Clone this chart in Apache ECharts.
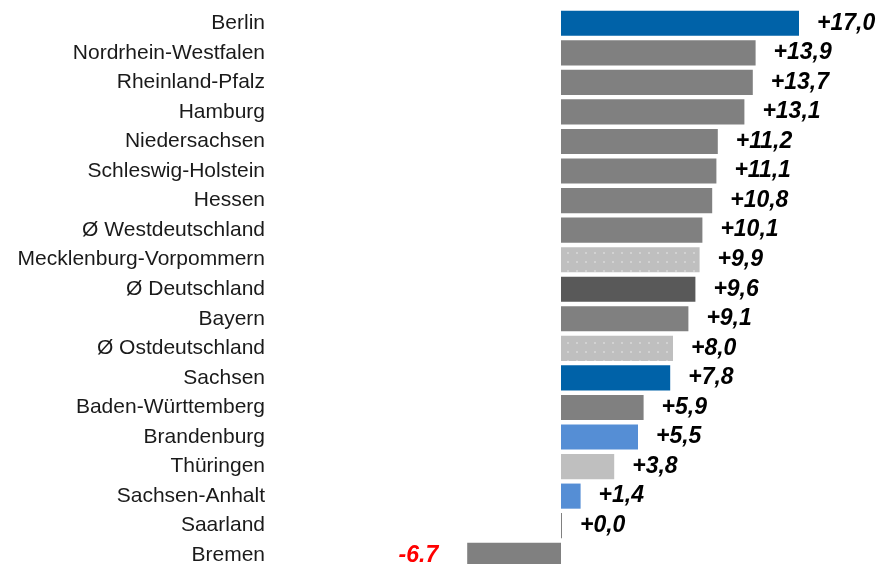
<!DOCTYPE html>
<html>
<head>
<meta charset="utf-8">
<script src="https://cdn.jsdelivr.net/npm/echarts@6/dist/echarts.min.js"></script>
<style>
  html, body { margin: 0; padding: 0; background: #fff; }
  #chart { width: 893px; height: 564px; }
</style>
</head>
<body>
<div id="chart"></div>
<script>
// Bundesländer, sortiert nach Veränderung
const regions = [
  'Berlin', 'Nordrhein-Westfalen', 'Rheinland-Pfalz', 'Hamburg', 'Niedersachsen',
  'Schleswig-Holstein', 'Hessen', 'Ø Westdeutschland', 'Mecklenburg-Vorpommern',
  'Ø Deutschland', 'Bayern', 'Ø Ostdeutschland', 'Sachsen', 'Baden-Württemberg',
  'Brandenburg', 'Thüringen', 'Sachsen-Anhalt', 'Saarland', 'Bremen'
];
const changes = [17.0, 13.9, 13.7, 13.1, 11.2, 11.1, 10.8, 10.1, 9.9, 9.6, 9.1, 8.0, 7.8, 5.9, 5.5, 3.8, 1.4, 0.0, -6.7];
// bar style per row
const styles = [
  'blue', 'grey', 'grey', 'grey', 'grey', 'grey', 'grey', 'grey', 'dotted',
  'dark', 'grey', 'dotted', 'blue', 'grey', 'lightblue', 'light', 'lightblue', 'grey', 'grey'
];

const colorMap = {
  blue: '#0062a8',
  grey: '#808080',
  dark: '#595959',
  light: '#bfbfbf',
  dotted: '#bfbfbf',
  lightblue: '#558ed5'
};

const dotDecal = {
  symbol: 'rect',
  symbolSize: 1,
  color: 'rgba(255,255,255,0.3)',
  dashArrayX: [[1.5, 7]],
  dashArrayY: [1.5, 7],
  rotation: 0
};

function fmt(v) {
  if (v < 0) return v.toFixed(1);
  return '+' + v.toFixed(1).replace('.', ',');
}

const barData = changes.map(function (v, i) {
  const item = {
    value: v,
    itemStyle: { color: colorMap[styles[i]] }
  };
  if (styles[i] === 'dotted') item.itemStyle.decal = dotDecal;
  if (v < 0) {
    item.label = { position: 'left', distance: 29, color: '#ff0000' };
  }
  return item;
});

const myChart = echarts.init(document.getElementById('chart'));
const option = {
  animation: false,
  grid: { left: 281, right: 52, top: 8.5, height: 561.5, outerBoundsMode: 'none', containLabel: false },
  xAxis: {
    type: 'value',
    min: -20,
    max: 20,
    show: false
  },
  yAxis: {
    type: 'category',
    data: regions,
    inverse: true,
    axisLine: { show: false },
    axisTick: { show: false },
    axisLabel: {
      margin: 16,
      color: '#1a1a1a',
      fontFamily: 'Liberation Sans, Arial, sans-serif',
      fontSize: 21
    }
  },
  series: [
    {
      type: 'bar',
      data: barData,
      barCategoryGap: '15%',
      barMinHeight: 1,
      label: {
        show: true,
        position: 'right',
        distance: 18,
        color: '#000',
        fontFamily: 'Liberation Sans, Arial, sans-serif',
        fontSize: 23,
        fontWeight: 'bold',
        fontStyle: 'italic',
        formatter: function (p) { return fmt(p.value); }
      }
    }
  ]
};
myChart.setOption(option);
</script>
</body>
</html>
